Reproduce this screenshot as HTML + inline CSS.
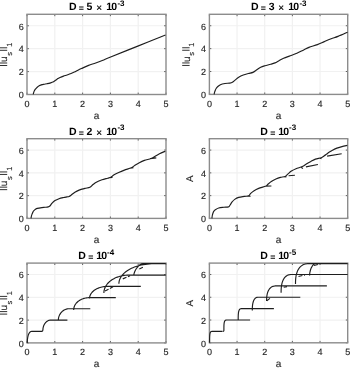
<!DOCTYPE html>
<html><head><meta charset="utf-8"><style>
html,body{margin:0;padding:0;background:#fff;}
svg{display:block;font-family:"Liberation Sans",sans-serif;text-rendering:geometricPrecision;filter:blur(0.3px);}
</style></head><body>
<svg width="350" height="368" viewBox="0 0 350 368">
<rect width="350" height="368" fill="#fff"/>
<path d="M54.8 14.3V94.5M82.6 14.3V94.5M110.4 14.3V94.5M138.2 14.3V94.5M27 71.59H166M27 48.67H166M27 25.76H166" stroke="#f1f1f1" stroke-width="1.2" fill="none"/>
<path d="M27 94.5v-1.9M27 14.3v1.9M54.8 94.5v-1.9M54.8 14.3v1.9M82.6 94.5v-1.9M82.6 14.3v1.9M110.4 94.5v-1.9M110.4 14.3v1.9M138.2 94.5v-1.9M138.2 14.3v1.9M166 94.5v-1.9M166 14.3v1.9M27 94.5h1.9M166 94.5h-1.9M27 71.59h1.9M166 71.59h-1.9M27 48.67h1.9M166 48.67h-1.9M27 25.76h1.9M166 25.76h-1.9" stroke="#606060" stroke-width="1" fill="none"/>
<rect x="27" y="14.3" width="139" height="80.2" fill="none" stroke="#8c8c8c" stroke-width="1.4"/>
<g font-size="9" fill="#262626" stroke="#262626" stroke-width="0.15"><text x="27" y="106.8" text-anchor="middle">0</text><text x="54.8" y="106.8" text-anchor="middle">1</text><text x="82.6" y="106.8" text-anchor="middle">2</text><text x="110.4" y="106.8" text-anchor="middle">3</text><text x="138.2" y="106.8" text-anchor="middle">4</text><text x="166" y="106.8" text-anchor="middle">5</text><text x="23.7" y="98.3" text-anchor="end">0</text><text x="23.7" y="75.39" text-anchor="end">2</text><text x="23.7" y="52.47" text-anchor="end">4</text><text x="23.7" y="29.56" text-anchor="end">6</text></g>
<g fill="#000"><text x="68.93" y="10.45" font-size="10.5" font-weight="bold">D</text><text x="78.78" y="11.25" font-size="8.8" font-weight="bold">=</text><text x="86.59" y="10.45" font-size="10.5" font-weight="bold">5</text><text x="96.31" y="11.35" font-size="10" stroke="#000" stroke-width="0.15">×</text><text x="106.17" y="10.45" font-size="10.5" font-weight="bold">1</text><text x="111.17" y="10.45" font-size="10.5" font-weight="bold">0</text><text x="117.4" y="6.05" font-size="8" font-weight="bold">-3</text></g>
<text x="96.5" y="118.8" text-anchor="middle" font-size="10" fill="#262626" stroke="#262626" stroke-width="0.12">a</text>
<path d="M-0.2 47.8H7.2M-0.2 50.3H7.2M-0.2 63H7.2M-0.2 65.5H7.2" stroke="#262626" stroke-width="0.95" fill="none"/>
<g transform="translate(7.2 54.4) rotate(-90)" fill="#262626" stroke="#262626" stroke-width="0.12"><text x="-7.6" y="0" font-size="10">u</text><text x="-1.4" y="4.3" font-size="7.5">s</text><text x="7.7" y="4.3" font-size="7.5">1</text></g>
<path d="M237.06 14.3V94.4M264.72 14.3V94.4M292.38 14.3V94.4M320.04 14.3V94.4M209.4 71.51H347.7M209.4 48.63H347.7M209.4 25.74H347.7" stroke="#f1f1f1" stroke-width="1.2" fill="none"/>
<path d="M209.4 94.4v-1.9M209.4 14.3v1.9M237.06 94.4v-1.9M237.06 14.3v1.9M264.72 94.4v-1.9M264.72 14.3v1.9M292.38 94.4v-1.9M292.38 14.3v1.9M320.04 94.4v-1.9M320.04 14.3v1.9M347.7 94.4v-1.9M347.7 14.3v1.9M209.4 94.4h1.9M347.7 94.4h-1.9M209.4 71.51h1.9M347.7 71.51h-1.9M209.4 48.63h1.9M347.7 48.63h-1.9M209.4 25.74h1.9M347.7 25.74h-1.9" stroke="#606060" stroke-width="1" fill="none"/>
<rect x="209.4" y="14.3" width="138.3" height="80.1" fill="none" stroke="#8c8c8c" stroke-width="1.4"/>
<g font-size="9" fill="#262626" stroke="#262626" stroke-width="0.15"><text x="209.4" y="106.7" text-anchor="middle">0</text><text x="237.06" y="106.7" text-anchor="middle">1</text><text x="264.72" y="106.7" text-anchor="middle">2</text><text x="292.38" y="106.7" text-anchor="middle">3</text><text x="320.04" y="106.7" text-anchor="middle">4</text><text x="347.7" y="106.7" text-anchor="middle">5</text><text x="206.1" y="98.2" text-anchor="end">0</text><text x="206.1" y="75.31" text-anchor="end">2</text><text x="206.1" y="52.43" text-anchor="end">4</text><text x="206.1" y="29.54" text-anchor="end">6</text></g>
<g fill="#000"><text x="250.98" y="10.45" font-size="10.5" font-weight="bold">D</text><text x="260.83" y="11.25" font-size="8.8" font-weight="bold">=</text><text x="268.64" y="10.45" font-size="10.5" font-weight="bold">3</text><text x="278.36" y="11.35" font-size="10" stroke="#000" stroke-width="0.15">×</text><text x="288.22" y="10.45" font-size="10.5" font-weight="bold">1</text><text x="293.22" y="10.45" font-size="10.5" font-weight="bold">0</text><text x="299.45" y="6.05" font-size="8" font-weight="bold">-3</text></g>
<text x="278.55" y="118.7" text-anchor="middle" font-size="10" fill="#262626" stroke="#262626" stroke-width="0.12">a</text>
<path d="M182.2 47.75H189.6M182.2 50.25H189.6M182.2 62.95H189.6M182.2 65.45H189.6" stroke="#262626" stroke-width="0.95" fill="none"/>
<g transform="translate(189.6 54.35) rotate(-90)" fill="#262626" stroke="#262626" stroke-width="0.12"><text x="-7.6" y="0" font-size="10">u</text><text x="-1.4" y="4.3" font-size="7.5">s</text><text x="7.7" y="4.3" font-size="7.5">1</text></g>
<path d="M54.8 138.7V218.4M82.6 138.7V218.4M110.4 138.7V218.4M138.2 138.7V218.4M27 195.63H166M27 172.86H166M27 150.09H166" stroke="#f1f1f1" stroke-width="1.2" fill="none"/>
<path d="M27 218.4v-1.9M27 138.7v1.9M54.8 218.4v-1.9M54.8 138.7v1.9M82.6 218.4v-1.9M82.6 138.7v1.9M110.4 218.4v-1.9M110.4 138.7v1.9M138.2 218.4v-1.9M138.2 138.7v1.9M166 218.4v-1.9M166 138.7v1.9M27 218.4h1.9M166 218.4h-1.9M27 195.63h1.9M166 195.63h-1.9M27 172.86h1.9M166 172.86h-1.9M27 150.09h1.9M166 150.09h-1.9" stroke="#606060" stroke-width="1" fill="none"/>
<rect x="27" y="138.7" width="139" height="79.7" fill="none" stroke="#8c8c8c" stroke-width="1.4"/>
<g font-size="9" fill="#262626" stroke="#262626" stroke-width="0.15"><text x="27" y="230.7" text-anchor="middle">0</text><text x="54.8" y="230.7" text-anchor="middle">1</text><text x="82.6" y="230.7" text-anchor="middle">2</text><text x="110.4" y="230.7" text-anchor="middle">3</text><text x="138.2" y="230.7" text-anchor="middle">4</text><text x="166" y="230.7" text-anchor="middle">5</text><text x="23.7" y="222.2" text-anchor="end">0</text><text x="23.7" y="199.43" text-anchor="end">2</text><text x="23.7" y="176.66" text-anchor="end">4</text><text x="23.7" y="153.89" text-anchor="end">6</text></g>
<g fill="#000"><text x="68.93" y="134.85" font-size="10.5" font-weight="bold">D</text><text x="78.78" y="135.65" font-size="8.8" font-weight="bold">=</text><text x="86.59" y="134.85" font-size="10.5" font-weight="bold">2</text><text x="96.31" y="135.75" font-size="10" stroke="#000" stroke-width="0.15">×</text><text x="106.17" y="134.85" font-size="10.5" font-weight="bold">1</text><text x="111.17" y="134.85" font-size="10.5" font-weight="bold">0</text><text x="117.4" y="130.45" font-size="8" font-weight="bold">-3</text></g>
<text x="96.5" y="242.7" text-anchor="middle" font-size="10" fill="#262626" stroke="#262626" stroke-width="0.12">a</text>
<path d="M-0.2 171.95H7.2M-0.2 174.45H7.2M-0.2 187.15H7.2M-0.2 189.65H7.2" stroke="#262626" stroke-width="0.95" fill="none"/>
<g transform="translate(7.2 178.55) rotate(-90)" fill="#262626" stroke="#262626" stroke-width="0.12"><text x="-7.6" y="0" font-size="10">u</text><text x="-1.4" y="4.3" font-size="7.5">s</text><text x="7.7" y="4.3" font-size="7.5">1</text></g>
<path d="M237.06 138.7V218.4M264.72 138.7V218.4M292.38 138.7V218.4M320.04 138.7V218.4M209.4 195.63H347.7M209.4 172.86H347.7M209.4 150.09H347.7" stroke="#f1f1f1" stroke-width="1.2" fill="none"/>
<path d="M209.4 218.4v-1.9M209.4 138.7v1.9M237.06 218.4v-1.9M237.06 138.7v1.9M264.72 218.4v-1.9M264.72 138.7v1.9M292.38 218.4v-1.9M292.38 138.7v1.9M320.04 218.4v-1.9M320.04 138.7v1.9M347.7 218.4v-1.9M347.7 138.7v1.9M209.4 218.4h1.9M347.7 218.4h-1.9M209.4 195.63h1.9M347.7 195.63h-1.9M209.4 172.86h1.9M347.7 172.86h-1.9M209.4 150.09h1.9M347.7 150.09h-1.9" stroke="#606060" stroke-width="1" fill="none"/>
<rect x="209.4" y="138.7" width="138.3" height="79.7" fill="none" stroke="#8c8c8c" stroke-width="1.4"/>
<g font-size="9" fill="#262626" stroke="#262626" stroke-width="0.15"><text x="209.4" y="230.7" text-anchor="middle">0</text><text x="237.06" y="230.7" text-anchor="middle">1</text><text x="264.72" y="230.7" text-anchor="middle">2</text><text x="292.38" y="230.7" text-anchor="middle">3</text><text x="320.04" y="230.7" text-anchor="middle">4</text><text x="347.7" y="230.7" text-anchor="middle">5</text><text x="206.1" y="222.2" text-anchor="end">0</text><text x="206.1" y="199.43" text-anchor="end">2</text><text x="206.1" y="176.66" text-anchor="end">4</text><text x="206.1" y="153.89" text-anchor="end">6</text></g>
<g fill="#000"><text x="260.33" y="134.85" font-size="10.5" font-weight="bold">D</text><text x="270.28" y="135.65" font-size="8.8" font-weight="bold">=</text><text x="278.27" y="134.85" font-size="10.5" font-weight="bold">1</text><text x="283.27" y="134.85" font-size="10.5" font-weight="bold">0</text><text x="289.1" y="130.45" font-size="8" font-weight="bold">-3</text></g>
<text x="278.55" y="242.7" text-anchor="middle" font-size="10" fill="#262626" stroke="#262626" stroke-width="0.12">a</text>
<text transform="translate(193 178.85) rotate(-90)" text-anchor="middle" font-size="9.8" fill="#262626" stroke="#262626" stroke-width="0.15">A</text>
<path d="M54.8 263.1V342.9M82.6 263.1V342.9M110.4 263.1V342.9M138.2 263.1V342.9M27 320.1H166M27 297.3H166M27 274.5H166" stroke="#f1f1f1" stroke-width="1.2" fill="none"/>
<path d="M27 342.9v-1.9M27 263.1v1.9M54.8 342.9v-1.9M54.8 263.1v1.9M82.6 342.9v-1.9M82.6 263.1v1.9M110.4 342.9v-1.9M110.4 263.1v1.9M138.2 342.9v-1.9M138.2 263.1v1.9M166 342.9v-1.9M166 263.1v1.9M27 342.9h1.9M166 342.9h-1.9M27 320.1h1.9M166 320.1h-1.9M27 297.3h1.9M166 297.3h-1.9M27 274.5h1.9M166 274.5h-1.9" stroke="#606060" stroke-width="1" fill="none"/>
<rect x="27" y="263.1" width="139" height="79.8" fill="none" stroke="#8c8c8c" stroke-width="1.4"/>
<g font-size="9" fill="#262626" stroke="#262626" stroke-width="0.15"><text x="27" y="355.2" text-anchor="middle">0</text><text x="54.8" y="355.2" text-anchor="middle">1</text><text x="82.6" y="355.2" text-anchor="middle">2</text><text x="110.4" y="355.2" text-anchor="middle">3</text><text x="138.2" y="355.2" text-anchor="middle">4</text><text x="166" y="355.2" text-anchor="middle">5</text><text x="23.7" y="346.7" text-anchor="end">0</text><text x="23.7" y="323.9" text-anchor="end">2</text><text x="23.7" y="301.1" text-anchor="end">4</text><text x="23.7" y="278.3" text-anchor="end">6</text></g>
<g fill="#000"><text x="78.28" y="259.25" font-size="10.5" font-weight="bold">D</text><text x="88.23" y="260.05" font-size="8.8" font-weight="bold">=</text><text x="96.22" y="259.25" font-size="10.5" font-weight="bold">1</text><text x="101.22" y="259.25" font-size="10.5" font-weight="bold">0</text><text x="107.05" y="254.85" font-size="8" font-weight="bold">-4</text></g>
<text x="96.5" y="367.2" text-anchor="middle" font-size="10" fill="#262626" stroke="#262626" stroke-width="0.12">a</text>
<path d="M-0.2 296.4H7.2M-0.2 298.9H7.2M-0.2 311.6H7.2M-0.2 314.1H7.2" stroke="#262626" stroke-width="0.95" fill="none"/>
<g transform="translate(7.2 303) rotate(-90)" fill="#262626" stroke="#262626" stroke-width="0.12"><text x="-7.6" y="0" font-size="10">u</text><text x="-1.4" y="4.3" font-size="7.5">s</text><text x="7.7" y="4.3" font-size="7.5">1</text></g>
<path d="M237.06 263.1V342.8M264.72 263.1V342.8M292.38 263.1V342.8M320.04 263.1V342.8M209.4 320.03H347.7M209.4 297.26H347.7M209.4 274.49H347.7" stroke="#f1f1f1" stroke-width="1.2" fill="none"/>
<path d="M209.4 342.8v-1.9M209.4 263.1v1.9M237.06 342.8v-1.9M237.06 263.1v1.9M264.72 342.8v-1.9M264.72 263.1v1.9M292.38 342.8v-1.9M292.38 263.1v1.9M320.04 342.8v-1.9M320.04 263.1v1.9M347.7 342.8v-1.9M347.7 263.1v1.9M209.4 342.8h1.9M347.7 342.8h-1.9M209.4 320.03h1.9M347.7 320.03h-1.9M209.4 297.26h1.9M347.7 297.26h-1.9M209.4 274.49h1.9M347.7 274.49h-1.9" stroke="#606060" stroke-width="1" fill="none"/>
<rect x="209.4" y="263.1" width="138.3" height="79.7" fill="none" stroke="#8c8c8c" stroke-width="1.4"/>
<g font-size="9" fill="#262626" stroke="#262626" stroke-width="0.15"><text x="209.4" y="355.1" text-anchor="middle">0</text><text x="237.06" y="355.1" text-anchor="middle">1</text><text x="264.72" y="355.1" text-anchor="middle">2</text><text x="292.38" y="355.1" text-anchor="middle">3</text><text x="320.04" y="355.1" text-anchor="middle">4</text><text x="347.7" y="355.1" text-anchor="middle">5</text><text x="206.1" y="346.6" text-anchor="end">0</text><text x="206.1" y="323.83" text-anchor="end">2</text><text x="206.1" y="301.06" text-anchor="end">4</text><text x="206.1" y="278.29" text-anchor="end">6</text></g>
<g fill="#000"><text x="260.33" y="259.25" font-size="10.5" font-weight="bold">D</text><text x="270.28" y="260.05" font-size="8.8" font-weight="bold">=</text><text x="278.27" y="259.25" font-size="10.5" font-weight="bold">1</text><text x="283.27" y="259.25" font-size="10.5" font-weight="bold">0</text><text x="289.1" y="254.85" font-size="8" font-weight="bold">-5</text></g>
<text x="278.55" y="367.1" text-anchor="middle" font-size="10" fill="#262626" stroke="#262626" stroke-width="0.12">a</text>
<text transform="translate(193 303.25) rotate(-90)" text-anchor="middle" font-size="9.8" fill="#262626" stroke="#262626" stroke-width="0.15">A</text>
<path d="M33.2 94.4C33.28 94.08 33.48 93.13 33.7 92.5C33.92 91.87 34.22 91.15 34.5 90.6C34.78 90.05 35.05 89.67 35.4 89.2C35.75 88.73 36.2 88.22 36.6 87.8C37 87.38 37.3 87.08 37.8 86.7C38.3 86.32 38.9 85.85 39.6 85.5C40.3 85.15 41.25 84.82 42 84.6C42.75 84.38 43.27 84.35 44.1 84.2C44.93 84.05 46.03 83.88 47 83.7C47.97 83.52 49.07 83.33 49.9 83.1C50.73 82.87 51.33 82.58 52 82.3C52.67 82.02 53.23 81.78 53.9 81.4C54.57 81.02 55.32 80.47 56 80C56.68 79.53 57.33 79.02 58 78.6C58.67 78.18 59.08 77.92 60 77.5C60.92 77.08 62.32 76.52 63.5 76.1C64.68 75.68 65.93 75.4 67.1 75C68.27 74.6 69.3 74.18 70.5 73.7C71.7 73.22 73.05 72.68 74.3 72.1C75.55 71.52 76.82 70.78 78 70.2C79.18 69.62 79.63 69.4 81.4 68.6C83.17 67.8 86.22 66.33 88.6 65.4C90.98 64.47 93.32 63.87 95.7 63C98.08 62.13 100.52 61.17 102.9 60.2C105.28 59.23 104.18 59.55 110 57.2C115.82 54.85 128.55 49.8 137.8 46.1C147.05 42.4 160.88 36.85 165.5 35M214.1 94.4C214.18 94.03 214.4 92.9 214.6 92.2C214.8 91.5 215.02 90.85 215.3 90.2C215.58 89.55 215.92 88.88 216.3 88.3C216.68 87.72 216.92 87.3 217.6 86.7C218.28 86.1 219.17 85.23 220.4 84.7C221.63 84.17 223.47 83.77 225 83.5C226.53 83.23 228.37 83.3 229.6 83.1C230.83 82.9 231.45 82.83 232.4 82.3C233.35 81.77 234.25 80.75 235.3 79.9C236.35 79.05 237.37 78.02 238.7 77.2C240.03 76.38 241.68 75.62 243.3 75C244.92 74.38 246.8 73.93 248.4 73.5C250 73.07 251.57 72.98 252.9 72.4C254.23 71.82 255.1 70.87 256.4 70C257.7 69.13 259.27 67.92 260.7 67.2C262.13 66.48 263.33 66.18 265 65.7C266.67 65.22 269.03 64.77 270.7 64.3C272.37 63.83 273.57 63.53 275 62.9C276.43 62.27 277.87 61.27 279.3 60.5C280.73 59.73 281.93 59.03 283.6 58.3C285.27 57.57 287.08 56.93 289.3 56.1C291.52 55.27 294.5 54.33 296.9 53.3C299.3 52.27 301.7 50.88 303.7 49.9C305.7 48.92 306.62 48.28 308.9 47.4C311.18 46.52 314.83 45.57 317.4 44.6C319.97 43.63 322 42.58 324.3 41.6C326.6 40.62 328.92 39.57 331.2 38.7C333.48 37.83 335.28 37.48 338 36.4C340.72 35.32 345.92 32.9 347.5 32.2M31 218.4C31.07 218.02 31.22 216.83 31.4 216.1C31.58 215.37 31.85 214.67 32.1 214C32.35 213.33 32.6 212.65 32.9 212.1C33.2 211.55 33.47 211.17 33.9 210.7C34.33 210.23 34.93 209.68 35.5 209.3C36.07 208.92 36.23 208.68 37.3 208.4C38.37 208.12 40.62 207.78 41.9 207.6C43.18 207.42 43.97 207.42 45 207.3C46.03 207.18 47.28 207.12 48.1 206.9C48.92 206.68 49.23 206.62 49.9 206C50.57 205.38 51.25 204.1 52.1 203.2C52.95 202.3 53.85 201.35 55 200.6C56.15 199.85 57.57 199.22 59 198.7C60.43 198.18 62.27 197.8 63.6 197.5C64.93 197.2 66.08 197.07 67 196.9C67.92 196.73 68.38 196.82 69.1 196.5C69.82 196.18 70.33 195.72 71.3 195C72.27 194.28 73.6 193.02 74.9 192.2C76.2 191.38 77.43 190.73 79.1 190.1C80.77 189.47 83.1 188.88 84.9 188.4C86.7 187.92 88.6 187.8 89.9 187.2C91.2 186.6 91.63 185.63 92.7 184.8C93.77 183.97 94.75 183.03 96.3 182.2C97.85 181.37 100.1 180.47 102 179.8C103.9 179.13 106.25 178.62 107.7 178.2C109.15 177.78 109.63 177.88 110.7 177.3C111.77 176.72 112.77 175.52 114.1 174.7C115.43 173.88 116.98 173.17 118.7 172.4C120.42 171.63 122.3 170.87 124.4 170.1C126.5 169.33 129.58 168.57 131.3 167.8C133.02 167.03 133.37 166.35 134.7 165.5C136.03 164.65 137.68 163.55 139.3 162.7C140.92 161.85 142.45 161.1 144.4 160.4C146.35 159.7 149.27 159.15 151 158.5C152.73 157.85 153.38 157.28 154.8 156.5C156.22 155.72 157.75 154.68 159.5 153.8C161.25 152.92 164.33 151.63 165.3 151.2M109.5 177.7L112.5 177.4M130 168.2L133.5 167.7M150 158.6L156.3 157.9M211.9 218.4C211.97 217.92 212.12 216.4 212.3 215.5C212.48 214.6 212.73 213.73 213 213C213.27 212.27 213.52 211.65 213.9 211.1C214.28 210.55 214.5 210.22 215.3 209.7C216.1 209.18 217.27 208.4 218.7 208C220.13 207.6 222.28 207.48 223.9 207.3C225.52 207.12 227.37 207.28 228.4 206.9C229.43 206.52 229.52 205.78 230.1 205C230.68 204.22 231.13 203.13 231.9 202.2C232.67 201.27 233.57 200.2 234.7 199.4C235.83 198.6 237.08 197.9 238.7 197.4C240.32 196.9 242.75 196.67 244.4 196.4C246.05 196.13 247.55 196.3 248.6 195.8C249.65 195.3 249.78 194.25 250.7 193.4C251.62 192.55 252.77 191.53 254.1 190.7C255.43 189.87 257.17 189.03 258.7 188.4C260.23 187.77 262.05 187.32 263.3 186.9C264.55 186.48 265.43 186.33 266.2 185.9C266.97 185.47 267.05 185.03 267.9 184.3C268.75 183.57 269.97 182.38 271.3 181.5C272.63 180.62 274.38 179.68 275.9 179C277.42 178.32 278.87 177.83 280.4 177.4C281.93 176.97 283.83 176.98 285.1 176.4C286.37 175.82 286.95 174.78 288 173.9C289.05 173.02 290.07 171.97 291.4 171.1C292.73 170.23 294.18 169.45 296 168.7C297.82 167.95 300.58 167.37 302.3 166.6C304.02 165.83 304.87 164.97 306.3 164.1C307.73 163.23 309.38 162.23 310.9 161.4C312.42 160.57 313.68 159.72 315.4 159.1C317.12 158.48 319.77 158.22 321.2 157.7C322.63 157.18 323.1 156.6 324 156C324.9 155.4 325.77 154.72 326.6 154.1C327.43 153.48 328.15 152.87 329 152.3C329.85 151.73 330.38 151.4 331.7 150.7C333.02 150 335.18 148.78 336.9 148.1C338.62 147.42 340.27 147.05 342 146.6C343.73 146.15 346.42 145.6 347.3 145.4M247 196.2L250.6 196.2M265.5 186.1L271.4 186M284.5 177L286.5 176.6M288.6 175.8L294.9 175.3M301.3 167.6L303 168.5M305.9 166.9L317.9 164.5M320 158.2L321.5 158.6M327.1 156.1L341.7 153.8M27.3 342.9L27.3 342.15L27.32 341.5L27.35 340.88L27.38 340.28L27.43 339.7L27.48 339.13L27.55 338.58L27.62 338.05L27.71 337.53L27.8 337.02L27.91 336.54L28.02 336.06L28.14 335.61L28.28 335.17L28.43 334.75L28.58 334.35L28.75 333.97L28.92 333.61L29.11 333.27L29.3 332.96L29.5 332.67L29.72 332.41L29.95 332.18L30.18 331.97L30.43 331.79L30.68 331.65L30.95 331.54L31.22 331.46L31.51 331.41L31.8 331.4L41.6 331.4M41.6 331.4Q42.9 331.4 42.9 330.1L42.91 329.63L42.94 329.16L42.98 328.69L43.04 328.22L43.12 327.76L43.22 327.3L43.34 326.85L43.47 326.4L43.62 325.95L43.79 325.52L43.98 325.09L44.18 324.67L44.4 324.27L44.64 323.87L44.9 323.49L45.18 323.11L45.47 322.76L45.78 322.42L46.11 322.09L46.46 321.79L46.82 321.5L47.2 321.23L47.6 320.99L48.02 320.77L48.46 320.58L48.91 320.41L49.38 320.28L49.87 320.18L50.38 320.12L50.9 320.1L67.4 320.1M58.3 320.5L58.31 319.94L58.35 319.39L58.41 318.84L58.5 318.28L58.61 317.74L58.74 317.2L58.9 316.66L59.08 316.13L59.29 315.61L59.52 315.09L59.78 314.59L60.06 314.1L60.37 313.62L60.7 313.15L61.05 312.7L61.43 312.26L61.83 311.84L62.26 311.43L62.71 311.05L63.19 310.69L63.69 310.35L64.22 310.04L64.77 309.75L65.34 309.49L65.94 309.26L66.56 309.07L67.21 308.91L67.88 308.8L68.58 308.73L69.3 308.7L90.3 308.7M73.7 309.9L73.72 309.32L73.77 308.74L73.86 308.16L73.98 307.59L74.14 307.02L74.34 306.46L74.57 305.9L74.84 305.34L75.14 304.8L75.48 304.27L75.85 303.74L76.26 303.23L76.7 302.72L77.18 302.24L77.7 301.76L78.25 301.31L78.84 300.87L79.46 300.45L80.12 300.05L80.81 299.67L81.54 299.32L82.3 298.99L83.1 298.69L83.94 298.42L84.81 298.19L85.72 297.99L86.66 297.82L87.64 297.7L88.65 297.63L89.7 297.6L115.8 297.6M89.5 298.6L89.52 298.03L89.58 297.45L89.68 296.88L89.82 296.31L90 295.74L90.22 295.18L90.48 294.63L90.78 294.08L91.12 293.54L91.5 293.01L91.92 292.49L92.38 291.98L92.88 291.48L93.42 291L94 290.53L94.62 290.08L95.28 289.64L95.98 289.23L96.72 288.83L97.5 288.46L98.32 288.11L99.18 287.78L100.08 287.48L101.02 287.22L102 286.98L103.02 286.78L104.08 286.62L105.18 286.5L106.32 286.43L107.5 286.4L140.8 286.4M103.9 292.9L103.93 292.06L104.01 291.22L104.15 290.39L104.34 289.56L104.59 288.73L104.9 287.92L105.26 287.11L105.68 286.31L106.15 285.52L106.68 284.75L107.26 283.99L107.9 283.24L108.59 282.52L109.34 281.81L110.15 281.13L111.01 280.47L111.93 279.83L112.9 279.22L113.93 278.65L115.01 278.1L116.15 277.59L117.34 277.12L118.59 276.68L119.9 276.29L121.26 275.95L122.68 275.66L124.15 275.42L125.68 275.25L127.26 275.14L128.9 275.1L165.8 275.1M118.9 283.7L118.94 282.76L119.06 281.82L119.25 280.88L119.52 279.95L119.87 279.02L120.3 278.1L120.81 277.19L121.39 276.29L122.05 275.41L122.79 274.54L123.61 273.68L124.5 272.85L125.47 272.03L126.52 271.24L127.65 270.47L128.86 269.73L130.14 269.02L131.5 268.33L132.94 267.68L134.46 267.07L136.05 266.5L137.72 265.96L139.47 265.48L141.3 265.04L143.21 264.66L145.19 264.33L147.25 264.06L149.39 263.87L151.61 263.74L153.9 263.7L165.8 263.7M133.7 275.8L133.71 275.57L133.74 275.25L133.79 274.88L133.86 274.49L133.95 274.07L134.06 273.63L134.19 273.17L134.34 272.71L134.51 272.23L134.7 271.74L134.91 271.25L135.14 270.76L135.39 270.26L135.66 269.76L135.95 269.26L136.26 268.76L136.59 268.27L136.94 267.79L137.31 267.31L137.7 266.85L138.11 266.39L138.54 265.96L138.99 265.54L139.46 265.15L139.95 264.78L140.46 264.44L140.99 264.14L141.54 263.89L142.11 263.7L142.7 263.6L165.8 263.6M209.6 342.8L209.6 339.86L209.61 338.65L209.63 337.73L209.65 336.96L209.68 336.29L209.72 335.71L209.76 335.18L209.81 334.71L209.87 334.28L209.93 333.89L210 333.53L210.08 333.22L210.16 332.93L210.25 332.67L210.35 332.45L210.45 332.25L210.56 332.07L210.68 331.93L210.8 331.8L210.93 331.7L211.07 331.61L211.21 331.55L211.36 331.5L211.52 331.46L211.68 331.44L211.85 331.43L212.03 331.42L212.21 331.42L212.4 331.41L212.6 331.41L222.6 331.41M223 331.41Q223.9 331.41 223.9 330.51L223.9 327.81L223.92 326.69L223.94 325.84L223.96 325.14L224 324.52L224.04 323.98L224.09 323.5L224.15 323.06L224.22 322.66L224.29 322.3L224.37 321.98L224.46 321.69L224.56 321.42L224.66 321.19L224.78 320.98L224.9 320.8L225.02 320.64L225.16 320.5L225.3 320.38L225.46 320.29L225.62 320.21L225.78 320.15L225.96 320.11L226.14 320.07L226.33 320.05L226.53 320.04L226.74 320.03L226.95 320.03L227.17 320.03L227.4 320.03L250.1 320.03M238.2 320.33L238.2 317.94L238.22 316.78L238.24 315.86L238.27 315.08L238.31 314.38L238.36 313.76L238.42 313.19L238.48 312.67L238.56 312.2L238.64 311.76L238.74 311.36L238.84 310.99L238.95 310.65L239.07 310.34L239.2 310.07L239.34 309.82L239.48 309.6L239.64 309.4L239.8 309.23L239.98 309.09L240.16 308.97L240.35 308.87L240.55 308.8L240.76 308.74L240.98 308.7L241.2 308.67L241.44 308.65L241.68 308.65L241.94 308.64L242.2 308.64L273.9 308.64M252.3 310.4L252.31 309.15L252.33 308.23L252.36 307.4L252.41 306.64L252.47 305.92L252.54 305.23L252.63 304.58L252.73 303.95L252.84 303.36L252.97 302.79L253.11 302.25L253.26 301.73L253.43 301.24L253.61 300.78L253.8 300.34L254.01 299.93L254.23 299.54L254.46 299.19L254.71 298.86L254.97 298.56L255.24 298.29L255.53 298.06L255.83 297.85L256.14 297.68L256.47 297.53L256.81 297.42L257.16 297.34L257.53 297.29L257.91 297.26L258.3 297.26L300.3 297.26M266.6 301.1L266.61 299.65L266.64 298.59L266.7 297.63L266.78 296.74L266.88 295.9L267 295.11L267.14 294.35L267.31 293.63L267.5 292.94L267.71 292.28L267.94 291.65L268.2 291.06L268.48 290.49L268.78 289.95L269.1 289.44L269.44 288.96L269.81 288.52L270.2 288.11L270.61 287.73L271.04 287.38L271.5 287.07L271.98 286.8L272.48 286.56L273 286.36L273.54 286.19L274.11 286.06L274.7 285.97L275.31 285.91L275.94 285.88L276.6 285.87L326.9 285.87M281.1 292.7L281.11 290.97L281.15 289.69L281.21 288.55L281.3 287.49L281.41 286.49L281.54 285.54L281.7 284.63L281.88 283.77L282.09 282.94L282.32 282.15L282.58 281.4L282.86 280.69L283.17 280.01L283.5 279.36L283.85 278.76L284.23 278.19L284.63 277.65L285.06 277.16L285.51 276.71L285.99 276.29L286.49 275.92L287.02 275.59L287.57 275.31L288.14 275.07L288.74 274.87L289.36 274.71L290.01 274.6L290.68 274.53L291.38 274.49L292.1 274.49L347.7 274.49M295.5 284L295.52 282.06L295.56 280.63L295.64 279.35L295.75 278.16L295.89 277.04L296.06 275.98L296.26 274.96L296.5 274L296.76 273.07L297.06 272.19L297.38 271.35L297.74 270.54L298.13 269.78L298.55 269.06L299 268.38L299.48 267.74L300 267.15L300.54 266.6L301.12 266.09L301.72 265.63L302.36 265.21L303.03 264.84L303.73 264.52L304.46 264.25L305.22 264.03L306.02 263.85L306.84 263.73L307.7 263.65L308.58 263.61L309.5 263.6L347.7 263.6M309.6 275.5L309.61 275.12L309.63 274.69L309.66 274.23L309.71 273.75L309.77 273.26L309.84 272.77L309.93 272.27L310.03 271.76L310.14 271.26L310.27 270.76L310.41 270.25L310.56 269.76L310.73 269.27L310.91 268.78L311.1 268.31L311.31 267.84L311.53 267.39L311.76 266.94L312.01 266.52L312.27 266.11L312.54 265.72L312.83 265.35L313.13 265.01L313.44 264.69L313.77 264.4L314.11 264.15L314.46 263.94L314.83 263.77L315.21 263.65L315.6 263.6L347.7 263.6" fill="none" stroke="#1e1e1e" stroke-width="1.15" stroke-linejoin="round"/><path d="M105 291L113 286.8M122.8 278.9L130 275.8M139.3 268.9L143.5 266.9M266.8 300.8L270 298.3M283.7 287.2L287 286.6M298.5 276.5L305 274.9M314 265.5L318.5 264.3" fill="none" stroke="#1e1e1e" stroke-width="1.15" stroke-dasharray="4 1.6"/>
</svg>
</body></html>
